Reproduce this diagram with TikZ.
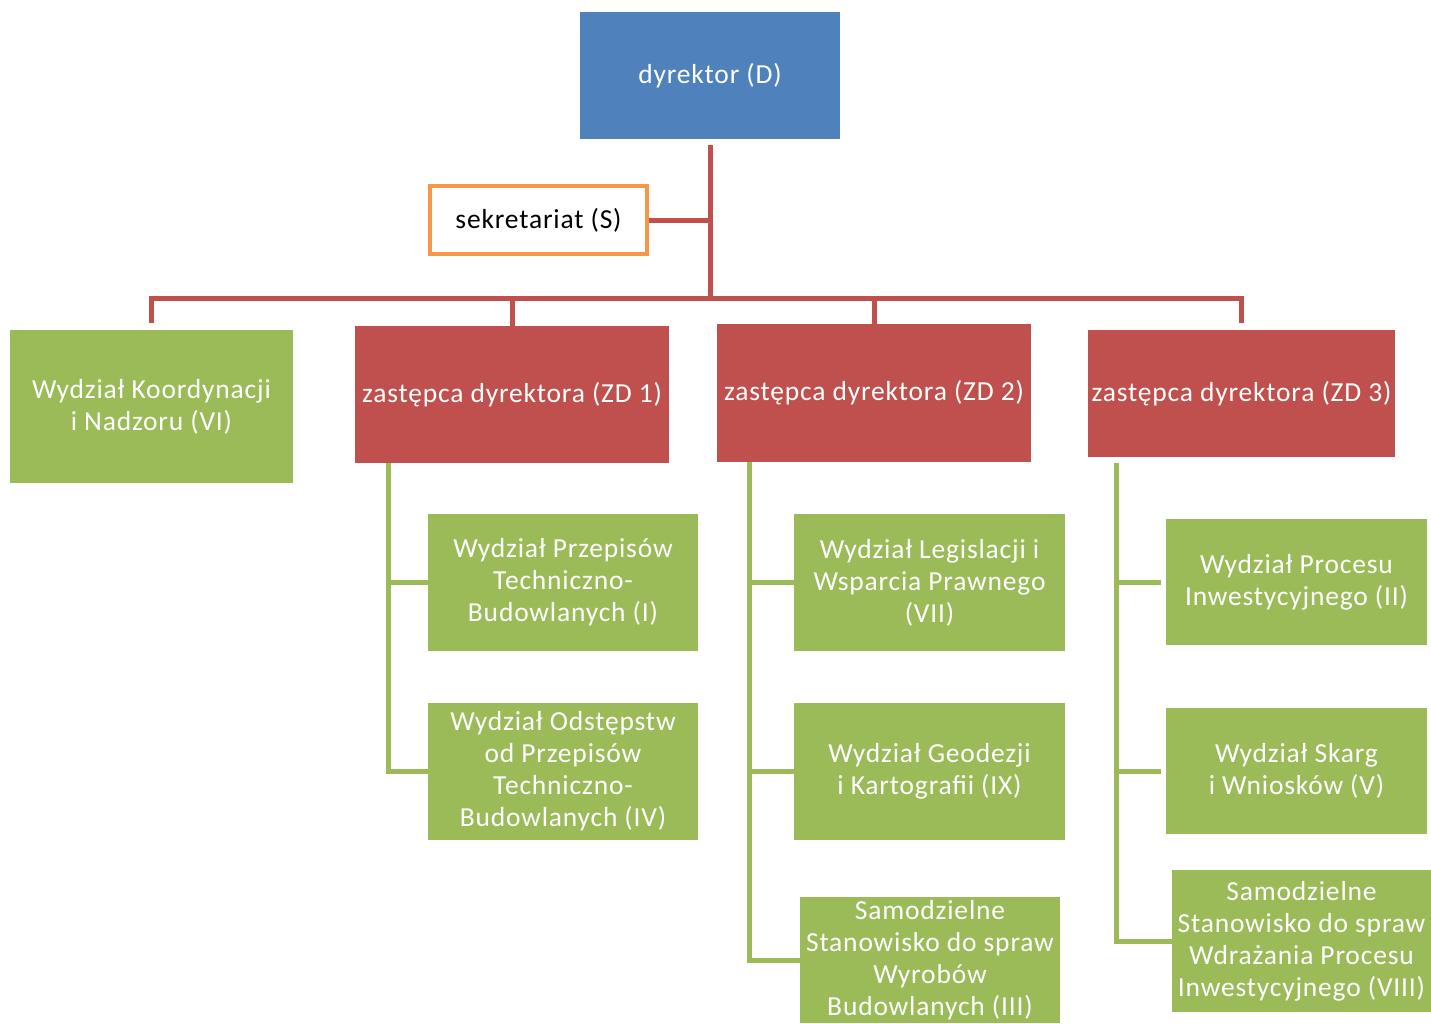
\documentclass[tikz,border=0pt]{standalone}
\usepackage{fontspec}
\setmainfont{Carlito}[LetterSpace=3]
\usepackage{tikz}
\usetikzlibrary{positioning}
\definecolor{dblue}{HTML}{4F81BD}
\definecolor{dred}{HTML}{C0504D}
\definecolor{dgreen}{HTML}{9BBB59}
\definecolor{dorange}{HTML}{F79646}
\tikzset{
  box/.style={rectangle, inner sep=0pt, align=center, text=white,
    font=\fontsize{27.5}{32}\selectfont},
  bluebox/.style={box, fill=dblue, minimum width=260pt, minimum height=127pt},
  secbox/.style={box, text=black, fill=white, draw=dorange, line width=4pt,
    minimum width=217pt, minimum height=68pt},
  redbox/.style={box, fill=dred, minimum width=314pt, minimum height=137pt},
  greenbox/.style={box, fill=dgreen, minimum width=270pt, minimum height=137pt},
  redline/.style={draw=dred, line width=5pt},
  greenline/.style={draw=dgreen, line width=5pt},
}
\begin{document}
\begin{tikzpicture}[x=1pt,y=-1pt]
    \useasboundingbox (0,0) rectangle (1431,1023);
    % top
    \node[bluebox] (dyr) at (710,75.5) {dyrektor (D)};
    \node[secbox] (sek) at (538.5,220) {sekretariat (S)};
    \coordinate (bus) at (710,298);
    % row of deputies
    \node[greenbox, minimum width=283pt, minimum height=153pt] (w6) at (151.5,406.5) {Wydział Koordynacji\\i Nadzoru (VI)};
    \node[redbox] (zd1) at (512,394.5) {zastępca dyrektora (ZD 1)};
    \node[redbox, minimum height=138pt] (zd2) at (874,393) {zastępca dyrektora (ZD 2)};
    \node[redbox, minimum width=307pt, minimum height=127pt] (zd3) at (1241.5,393.5) {zastępca dyrektora (ZD 3)};
    % col 1
    \node[greenbox] (w1) at (563,582.5) {Wydział Przepisów\\Techniczno-\\Budowlanych (I)};
    \node[greenbox] (w4) at (563,771.5) {Wydział Odstępstw\\od Przepisów\\Techniczno-\\Budowlanych (IV)};
    % col 2
    \node[greenbox, minimum width=271pt] (w7) at (929.5,582.5) {Wydział Legislacji i\\Wsparcia Prawnego\\(VII)};
    \node[greenbox, minimum width=271pt] (w9) at (929.5,771.5) {Wydział Geodezji\\i Kartografii (IX)};
    \node[greenbox, minimum width=260pt, minimum height=126pt] (w3) at (930,960) {Samodzielne\\Stanowisko do spraw\\Wyrobów\\Budowlanych (III)};
    % col 3
    \node[greenbox, minimum width=261pt, minimum height=126pt] (w2) at (1296.5,582) {Wydział Procesu\\Inwestycyjnego (II)};
    \node[greenbox, minimum width=261pt, minimum height=126pt] (w5) at (1296.5,771) {Wydział Skarg\\i Wniosków (V)};
    \node[greenbox, minimum width=259pt, minimum height=142pt] (w8) at (1301.5,941) {Samodzielne\\Stanowisko do spraw\\Wdrażania Procesu\\Inwestycyjnego (VIII)};

    % red lines
    \draw[redline, shorten <=6pt] (dyr.south) -- (bus);
    \draw[redline] (sek.east) -- (sek.east -| bus);
    \draw[redline] ([yshift=7pt]w6.north) -- (w6.north |- bus) -- (zd3.north |- bus) -- ([yshift=7pt]zd3.north);
    \draw[redline] (zd1.north) -- (zd1.north |- bus);
    \draw[redline] (zd2.north) -- (zd2.north |- bus);

    % green lines
    \coordinate (t1) at ([xshift=34pt]zd1.south west);
    \draw[greenline] (t1) |- (w4.west);
    \draw[greenline] (w1.west -| t1) -- (w1.west);
    \coordinate (t2) at ([xshift=33pt]zd2.south west);
    \draw[greenline] (t2) |- (w3.west);
    \draw[greenline] (w7.west -| t2) -- (w7.west);
    \draw[greenline] (w9.west -| t2) -- (w9.west);
    \coordinate (t3) at ([xshift=29pt,yshift=-6pt]zd3.south west);
    \draw[greenline] (t3) |- (w8.west);
    \draw[greenline, shorten >=5pt] (w2.west -| t3) -- (w2.west);
    \draw[greenline, shorten >=5pt] (w5.west -| t3) -- (w5.west);
\end{tikzpicture}
\end{document}
